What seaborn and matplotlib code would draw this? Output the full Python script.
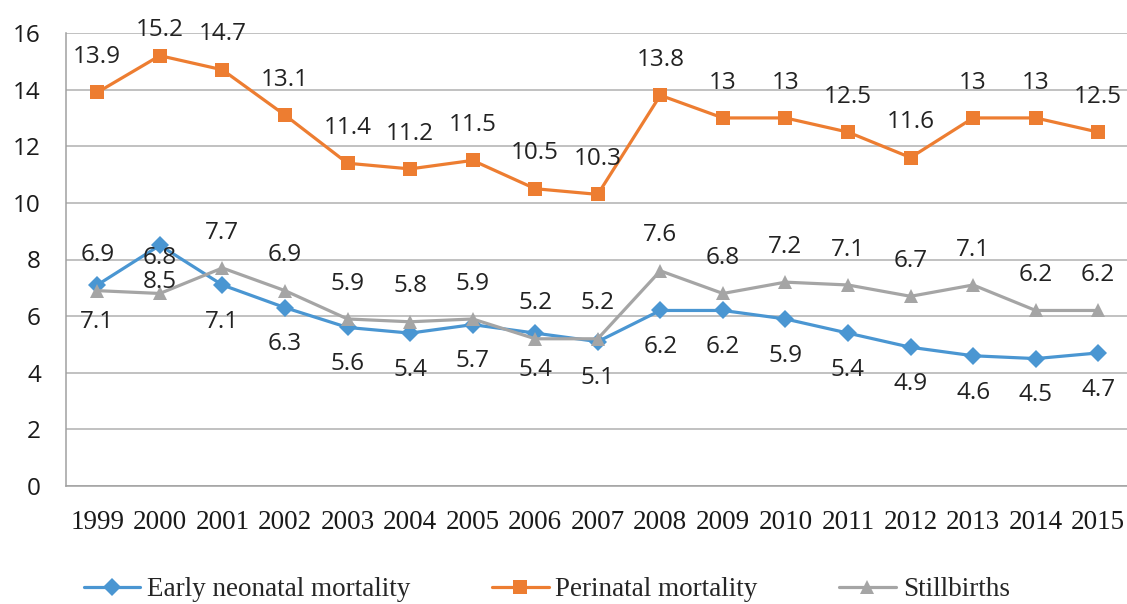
import pandas as pd
import numpy as np
import matplotlib
matplotlib.use('Agg')
import matplotlib.pyplot as plt
import seaborn as sns

# Данные графика
years = list(range(1999, 2016))
early_neonatal = [7.1, 8.5, 7.1, 6.3, 5.6, 5.4, 5.7, 5.4, 5.1, 6.2, 6.2, 5.9, 5.4, 4.9, 4.6, 4.5, 4.7]
perinatal = [13.9, 15.2, 14.7, 13.1, 11.4, 11.2, 11.5, 10.5, 10.3, 13.8, 13, 13, 12.5, 11.6, 13, 13, 12.5]
stillbirths = [6.9, 6.8, 7.7, 6.9, 5.9, 5.8, 5.9, 5.2, 5.2, 7.6, 6.8, 7.2, 7.1, 6.7, 7.1, 6.2, 6.2]

series_names = ['Early neonatal mortality', 'Perinatal mortality', 'Stillbirths']
series_values = [early_neonatal, perinatal, stillbirths]
colors = ['#4A96D2', '#ED7D31', '#A5A5A5']
markers = ['D', 's', '^']
marker_sizes = [9, 10.5, 10.5]
label_side = ['below', 'above', 'above']

sns.set_style('white')
label_font = 'Open Sans'
serif_font = 'Liberation Serif'

fig = plt.figure(figsize=(11.27, 6.04), dpi=100)
ax = fig.add_axes([66 / 1127, (604 - 486) / 604, (1129.5 - 66) / 1127, (486 - 33) / 604])

for name, vals, col, mk, ms, side in zip(series_names, series_values, colors, markers, marker_sizes, label_side):
    df = pd.DataFrame({'year': years, 'value': vals})
    sns.lineplot(data=df, x='year', y='value', ax=ax, color=col, linewidth=2.3,
                 marker=mk, markersize=ms, markeredgewidth=0, label=name, clip_on=False)
    # Подписи значений
    for x, v in zip(years, vals):
        if side == 'above':
            y_lab = min(v + 1.25, 16.1)
        else:
            y_lab = v - 1.3
        ax.text(x, y_lab, f'{v:g}', ha='center', va='center', fontsize=17.5,
                family=label_font, color='#222222', clip_on=False)

ax.set_xlim(1998.5, 2015.5)
ax.set_ylim(0, 16)
ax.set_yticks(range(0, 17, 2))
ax.set_xticks(years)
ax.set_xticks(np.arange(1998.5, 2016, 1), minor=True)
ax.set_xlabel('')
ax.set_ylabel('')
ax.yaxis.grid(True, color='#B0B0B0', linewidth=1.1)
ax.set_axisbelow(True)

for s in ['top', 'right']:
    ax.spines[s].set_visible(False)
for s in ['left', 'bottom']:
    ax.spines[s].set_color('#A0A0A0')
    ax.spines[s].set_linewidth(1.1)

ax.tick_params(axis='x', which='major', length=0, pad=17, labelsize=19.5)
ax.tick_params(axis='x', which='minor', length=7, width=1.1, color='#A0A0A0', direction='out')
ax.tick_params(axis='y', length=6, width=1.1, color='#A0A0A0', direction='out', pad=12, labelsize=17.5)
for lbl in ax.get_xticklabels():
    lbl.set_family(serif_font)
    lbl.set_color('#1A1A1A')
for lbl in ax.get_yticklabels():
    lbl.set_family(label_font)
    lbl.set_color('#1A1A1A')

handles, labels = ax.get_legend_handles_labels()
ax.get_legend().remove()
fig.legend(handles, labels, loc='center', bbox_to_anchor=(0.485, 0.024), ncol=3, frameon=False,
           prop={'family': serif_font, 'size': 19.5}, handlelength=2.1, handletextpad=0.25,
           columnspacing=3.0)

fig.savefig('out.png', dpi=100)
